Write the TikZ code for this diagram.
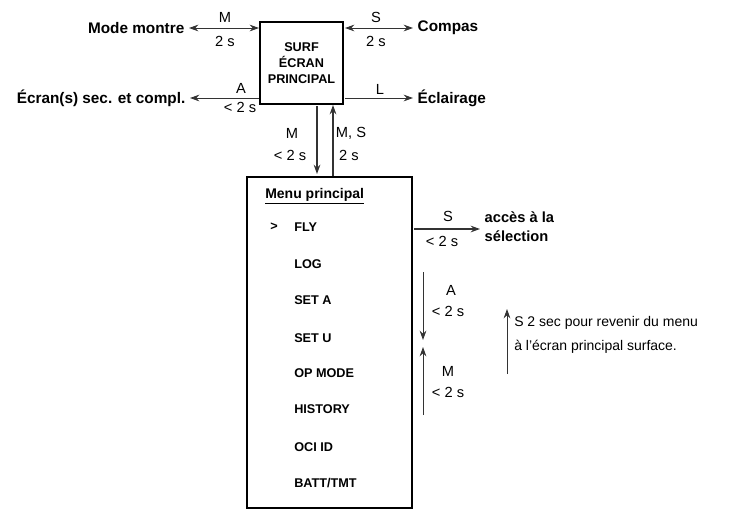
\documentclass[tikz,border=0pt]{standalone}
\usepackage{fontspec}
\setmainfont{Liberation Sans}
\usetikzlibrary{positioning,arrows.meta}
\begin{document}
\begin{tikzpicture}[x=0.75pt,y=-0.75pt,
    lbl/.style={font=\fontsize{11.5}{12}\selectfont\bfseries},
    key/.style={font=\fontsize{11}{12}\selectfont,inner sep=1pt},
    item/.style={font=\fontsize{9.5}{10}\selectfont\bfseries,anchor=west,inner sep=0pt},
    arr/.style={-{Stealth[length=7pt,width=5pt]},line width=0.7pt,draw=black!80}]
    \useasboundingbox (0,0) rectangle (756,512);
    % main screen and menu
    \draw[line width=0.8pt] (260,22) rectangle (343,104);
    \node[align=center,font=\fontsize{9.5}{12}\selectfont\bfseries] (surf) at (301.5,63) {SURF\\ÉCRAN\\PRINCIPAL};
    \draw[line width=0.8pt] (247,177) rectangle (412,508);
    \node[font=\fontsize{10.5}{11}\selectfont\bfseries,anchor=west,inner sep=0pt] (menu) at (265,196) {\underline{Menu principal}};

    % side targets
    \node[lbl,anchor=east] (montre) at (189,28) {Mode montre};
    \node[lbl,anchor=west] (compas) at (413,28) {Compas};
    \node[lbl,anchor=east] (ecran) at (190,98) {Écran(s) sec. et compl.};
    \node[lbl,anchor=west] (eclair) at (413,98) {Éclairage};
    \coordinate (surfW1) at (259,28);
    \coordinate (surfE1) at (345,28);
    \coordinate (surfW2) at (259,98);
    \coordinate (surfE2) at (345,98);
    \draw[arr,{Stealth[length=7pt,width=5pt]}-{Stealth[length=7pt,width=5pt]}] (montre) -- (surfW1);
    \draw[arr,{Stealth[length=7pt,width=5pt]}-{Stealth[length=7pt,width=5pt]}] (surfE1) -- (compas);
    \draw[arr] (surfW2) -- (ecran);
    \draw[arr] (surfE2) -- (eclair);
    \node[key] (kM) at (225,17) {M};
    \node[key] (kM2) at (225,41) {2 s};
    \node[key] (kS) at (376,17) {S};
    \node[key] (kS2) at (376,41) {2 s};
    \node[key] (kA) at (241,88) {A};
    \node[key] (kA2) at (240,107) {< 2 s};
    \node[key] (kL) at (380,89) {L};

    % surf <-> menu
    \coordinate (dTop) at (317,106);
    \coordinate (dBot) at (317,174);
    \coordinate (uBot) at (333,176);
    \coordinate (uTop) at (333,105);
    \draw[arr,line width=1pt] (dTop) -- (dBot);
    \draw[arr,line width=1pt] (uBot) -- (uTop);
    \node[key] (kMd) at (292,133) {M};
    \node[key] (kMd2) at (290,155) {< 2 s};
    \node[key] (kMS) at (351,133) {M, S};
    \node[key] (kMS2) at (349,155) {2 s};

    % menu items
    \node[item] (sel) at (270,227) {>};
    \foreach \y/\t/\n in {227/FLY/fly,264/LOG/log,300/SET A/seta,338/SET U/setu,373/OP MODE/opmode,409/HISTORY/history,447/OCI ID/oci,483/{BATT/TMT}/batt}
        \node[item] (\n) at (294,\y) {\t};

    % selection
    \node[lbl,anchor=west,align=left,font=\fontsize{11}{14}\selectfont\bfseries] (acces) at (480,227) {accès à la\\sélection};
    \coordinate (selA) at (414,229);
    \draw[arr,line width=1pt] (selA) -- (acces.west |- selA);
    \node[key] (kSs) at (448,216) {S};
    \node[key] (kSs2) at (442,241) {< 2 s};

    % scroll
    \coordinate (aTop) at (423,272);
    \coordinate (aBot) at (423,340);
    \coordinate (mBot) at (423,415);
    \coordinate (mTop) at (423,347);
    \draw[arr] (aTop) -- (aBot);
    \draw[arr] (mBot) -- (mTop);
    \node[key] (kAs) at (451,290) {A};
    \node[key] (kAs2) at (448,311) {< 2 s};
    \node[key] (kMs) at (448,371) {M};
    \node[key] (kMs2) at (448,392) {< 2 s};

    % note
    \coordinate (nBot) at (507,374);
    \coordinate (nTop) at (507,309);
    \draw[arr] (nBot) -- (nTop);
    \node[anchor=west,align=left,font=\fontsize{10.5}{18}\selectfont,inner sep=0pt] (note) at (514,335) {S 2 sec pour revenir du menu\\à l'écran principal surface.};
\end{tikzpicture}
\end{document}
